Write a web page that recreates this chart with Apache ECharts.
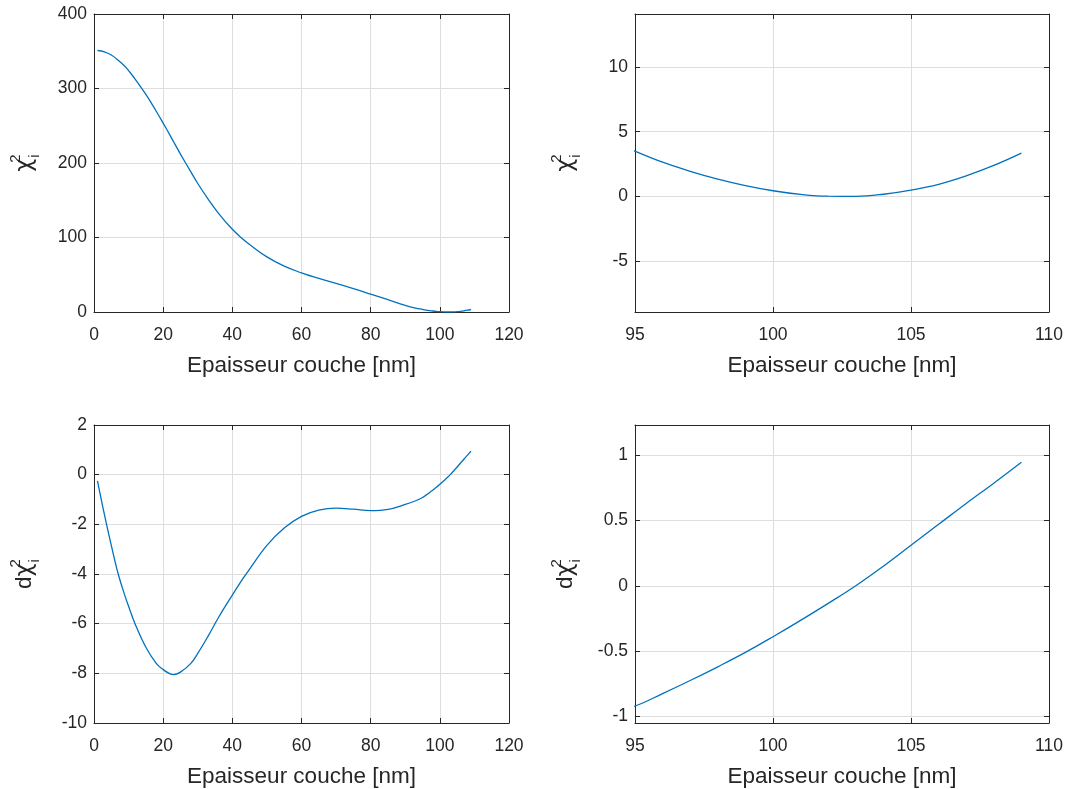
<!DOCTYPE html>
<html>
<head>
<meta charset="utf-8">
<script src="https://cdn.jsdelivr.net/npm/echarts@6/dist/echarts.min.js"></script>
<style>
  html, body { margin: 0; padding: 0; background: #ffffff; }
  #chart { width: 1069px; height: 789px; }
</style>
</head>
<body>
<div id="chart"></div>
<script>
// ---- Data ----
const thickness = [1, 3, 5, 7, 9, 10, 12, 15, 18, 20, 22, 23, 25, 28, 30, 33, 36, 40, 43, 45, 50, 55, 60, 65, 70, 75, 80, 85, 90, 93, 95, 96, 97, 98, 99, 100, 101, 102, 103, 104, 105, 106, 107, 108, 109];
const chi2 = [351, 349.3, 345, 338, 329.5, 324, 312, 292, 269.5, 253.5, 237, 228.5, 212, 188, 172.5, 151.5, 132.5, 111, 98, 90.5, 74, 61.5, 52.5, 45, 38.5, 31.5, 24, 16.5, 9, 5.3, 3.5, 2.65, 1.95, 1.35, 0.85, 0.45, 0.17, 0.03, 0.02, 0.18, 0.5, 0.95, 1.6, 2.4, 3.35];
const dchi2 = [-0.25, -1.6, -2.85, -4.0, -4.9, -5.3, -6.05, -6.95, -7.6, -7.85, -8.02, -8.05, -7.95, -7.6, -7.2, -6.5, -5.75, -4.85, -4.2, -3.8, -2.85, -2.15, -1.68, -1.43, -1.35, -1.39, -1.45, -1.4, -1.2, -1.05, -0.92, -0.825, -0.725, -0.62, -0.51, -0.39, -0.265, -0.135, 0.0, 0.15, 0.31, 0.47, 0.63, 0.785, 0.945];

const xLabel = 'Epaisseur couche [nm]';
const yLabelChi = '{chi|χ}{sup|2}{sub|i}';
const yLabelDChi = '{d|d}{chi|χ}{sup|2}{sub|i}';

// ---- Styles ----
const AX = '#262626';
const GRIDC = '#dedede';
const LINE = '#0072BD';
const FONT = 'Liberation Sans, Arial, Helvetica, sans-serif';
const TICK_FS = 17.5;
const NAME_FS = 22.5;

const richName = {
  d: { fontSize: NAME_FS, color: AX, fontFamily: FONT, lineHeight: 34, verticalAlign: 'middle' },
  chi: { fontSize: NAME_FS, color: AX, fontFamily: 'DejaVu Sans, sans-serif', lineHeight: 34, verticalAlign: 'middle' },
  sup: { fontSize: 15, color: AX, fontFamily: FONT, lineHeight: 15, verticalAlign: 'top', width: 0 },
  sub: { fontSize: 15, color: AX, fontFamily: FONT, lineHeight: 15, verticalAlign: 'bottom', padding: [0, 0, 0, 1] }
};

const grids = [
  { left: 94, top: 14, width: 415, height: 298 },
  { left: 635, top: 14, width: 414, height: 298 },
  { left: 94, top: 425, width: 415, height: 298 },
  { left: 635, top: 425, width: 414, height: 298 }
];

const xCfg = [
  { min: 0, max: 120, interval: 20 },
  { min: 95, max: 110, interval: 5 },
  { min: 0, max: 120, interval: 20 },
  { min: 95, max: 110, interval: 5 }
];
const yCfg = [
  { min: 0, max: 400, interval: 100, name: yLabelChi },
  { min: -8.9, max: 14.08, splitNumber: 5, name: yLabelChi, hideEnds: true },
  { min: -10, max: 2, interval: 2, name: yLabelDChi },
  { min: -1.05, max: 1.23, splitNumber: 5, name: yLabelDChi, hideEnds: true }
];

const xAxes = [];
const yAxes = [];
for (let g = 0; g < 4; g++) {
  const xc = xCfg[g];
  xAxes.push({
    type: 'value', gridIndex: g, position: 'bottom',
    min: xc.min, max: xc.max, interval: xc.interval,
    name: xLabel, nameLocation: 'middle', nameGap: 42,
    nameTextStyle: { fontSize: NAME_FS, color: AX, fontFamily: FONT },
    axisLine: { show: true, onZero: false, lineStyle: { color: AX, width: 1 } },
    axisTick: { show: true, inside: true, length: 5, lineStyle: { color: AX } },
    axisLabel: { fontSize: TICK_FS, color: AX, fontFamily: FONT, margin: 14 },
    splitLine: { show: true, lineStyle: { color: GRIDC, width: 1 } }
  });
  const yc = yCfg[g];
  const y = {
    type: 'value', gridIndex: g, position: 'left',
    min: yc.min, max: yc.max,
    name: yc.name, nameLocation: 'middle', nameGap: 52,
    nameTextStyle: { rich: richName },
    axisLine: { show: true, onZero: false, lineStyle: { color: AX, width: 1 } },
    axisTick: { show: true, inside: true, length: 5, lineStyle: { color: AX } },
    axisLabel: { fontSize: TICK_FS, color: AX, fontFamily: FONT, margin: 7,
                 showMinLabel: !yc.hideEnds, showMaxLabel: !yc.hideEnds },
    splitLine: { show: true, lineStyle: { color: GRIDC, width: 1 } }
  };
  if (yc.interval !== undefined) y.interval = yc.interval;
  if (yc.splitNumber !== undefined) y.splitNumber = yc.splitNumber;
  yAxes.push(y);
}
// mirror axes (top / right) for the box and inner ticks
for (let g = 0; g < 4; g++) {
  const xc = xCfg[g];
  xAxes.push({
    type: 'value', gridIndex: g, position: 'top',
    min: xc.min, max: xc.max, interval: xc.interval,
    axisLine: { show: true, onZero: false, lineStyle: { color: AX, width: 1 } },
    axisTick: { show: true, inside: true, length: 5, lineStyle: { color: AX } },
    axisLabel: { show: false },
    splitLine: { show: false }
  });
  const yc = yCfg[g];
  const y = {
    type: 'value', gridIndex: g, position: 'right',
    min: yc.min, max: yc.max,
    axisLine: { show: true, onZero: false, lineStyle: { color: AX, width: 1 } },
    axisTick: { show: true, inside: true, length: 5, lineStyle: { color: AX } },
    axisLabel: { show: false },
    splitLine: { show: false }
  };
  if (yc.interval !== undefined) y.interval = yc.interval;
  if (yc.splitNumber !== undefined) y.splitNumber = yc.splitNumber;
  yAxes.push(y);
}

const chiData = thickness.map((x, i) => [x, chi2[i]]);
const dData = thickness.map((x, i) => [x, dchi2[i]]);

const series = [chiData, chiData, dData, dData].map((d, g) => ({
  type: 'line', xAxisIndex: g, yAxisIndex: g, data: d,
  showSymbol: false, smooth: 0.4, clip: true,
  lineStyle: { color: LINE, width: 1.3 }, itemStyle: { color: LINE },
  animation: false
}));

const chart = echarts.init(document.getElementById('chart'), null, { renderer: 'canvas' });
chart.setOption({
  backgroundColor: '#ffffff',
  animation: false,
  grid: grids,
  xAxis: xAxes,
  yAxis: yAxes,
  series: series
});
</script>
</body>
</html>
